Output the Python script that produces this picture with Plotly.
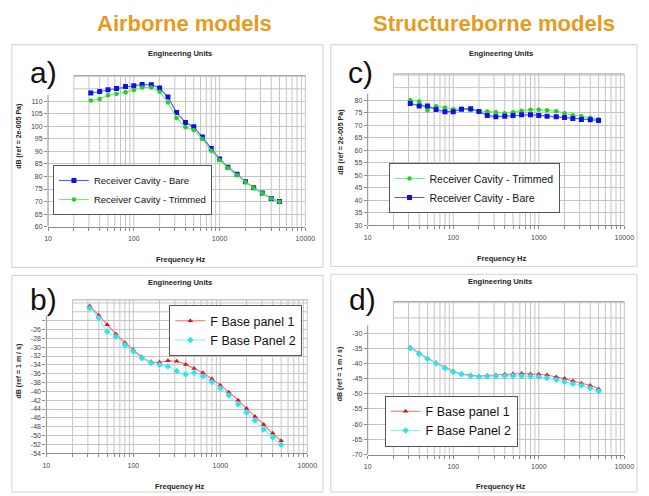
import math
import plotly.graph_objects as go

W, H = 649, 496

# ---------------- data ----------------
freqs = [31.5, 40, 50, 63, 80, 100, 125, 160, 200, 250, 315, 400, 500, 630,
         800, 1000, 1250, 1600, 2000, 2500, 3150, 4000, 5000]

a_bare = [113.3, 113.9, 114.6, 115.1, 115.9, 116.2, 116.7, 116.6, 115.3, 111.7,
          105.5, 101.6, 99.9, 95.8, 91.2, 87.0, 83.7, 80.9, 77.9, 75.5, 73.4, 71.2, 70.0]
a_trim = [110.3, 110.9, 112.4, 112.9, 113.6, 114.5, 115.5, 115.5, 113.8, 109.5,
          103.4, 99.7, 98.6, 95.0, 90.3, 86.6, 83.4, 80.5, 77.8, 75.4, 73.3, 71.2, 69.9]

c_trim = [80.0, 79.5, 76.0, 77.6, 77.0, 76.4, 76.6, 76.0, 75.6, 75.5, 75.2, 74.8,
          75.2, 75.8, 76.2, 76.2, 76.0, 75.6, 74.8, 74.0, 73.6, 73.0, 72.4]
c_bare = [78.7, 77.7, 77.7, 76.3, 75.4, 75.4, 76.4, 76.6, 75.5, 73.9, 73.4, 73.6,
          73.9, 74.2, 74.2, 73.9, 73.6, 73.4, 73.1, 72.7, 72.3, 72.2, 71.9]

b_p1 = [-20.7, -22.8, -24.9, -27.0, -29.0, -30.6, -32.2, -33.3, -33.4, -33.1, -33.2,
        -33.9, -34.8, -35.8, -37.2, -38.6, -40.2, -42.0, -43.9, -45.7, -47.5, -49.5, -51.2]
b_p2 = [-21.2, -23.4, -26.5, -27.6, -29.5, -31.0, -32.5, -33.6, -34.0, -34.3, -35.4,
        -36.1, -35.8, -36.6, -37.9, -39.3, -40.9, -42.9, -44.8, -46.6, -48.6, -50.4, -52.1]

d_p1 = [-34.7, -36.6, -38.3, -39.8, -41.3, -42.5, -43.4, -43.8, -44.2, -44.0, -43.8,
        -43.6, -43.5, -43.3, -43.5, -43.6, -43.8, -44.5, -45.0, -45.8, -46.5, -47.3, -48.4]
d_p2 = [-35.0, -36.9, -38.5, -40.0, -41.6, -42.8, -43.6, -44.1, -44.4, -44.3, -44.2,
        -44.1, -44.1, -44.1, -44.2, -44.5, -44.8, -45.4, -46.0, -46.7, -47.3, -48.2, -49.2]

x_tick_vals = [m * 10 ** e for e in (1, 2, 3) for m in range(1, 10)] + [10000]
x_tick_text = [str(v) if v in (10, 100, 1000, 10000) else "" for v in x_tick_vals]

header_left = "Airborne models"
header_right = "Structureborne models"
panel_title = "Engineering Units"
x_title = "Frequency Hz"
y_title_pa = "dB (ref = 2e-005 Pa)"
y_title_ms = "dB (ref = 1 m / s)"

# ---------------- helpers ----------------
def px(x):
    return x / W

def py(y):
    return 1 - y / H

FONT = "Liberation Sans, Arial, sans-serif"
GRID = "#c4c4c4"
AXIS = "#8a8a8a"
TICKF = dict(family=FONT, size=7, color="#444")

fig = go.Figure()
shapes = []
annotations = []

panels = [
    dict(n=1, xp=(45, 308), yp=(76, 228), ymin=60, ytop=120.3, t0=60, t1=110, step=5,
         extra=[115, 120], lab="a)", labpos=(40, 73), yt=y_title_pa, ytpos=(16, 137),
         etpos=(180, 54), xtpos=(180, 261), box=(8, 45, 326, 269)),
    dict(n=2, xp=(371.7, 634), yp=(74.3, 226.7), ymin=30, ytop=90.5, t0=30, t1=80, step=5,
         extra=[85, 90], lab="c)", labpos=(364, 73), yt=y_title_pa, ytpos=(345, 143),
         etpos=(508, 54), xtpos=(508, 260), box=(334, 45, 647, 268)),
    dict(n=3, xp=(43.3, 310), yp=(301.7, 456), ymin=-54, ytop=-19.3, t0=-54, t1=-24, step=2,
         extra=[-22, -20], lab="b)", labpos=(40, 301), yt=y_title_ms, ytpos=(15, 373),
         etpos=(180, 284), xtpos=(179, 489), box=(8, 277, 326, 495)),
    dict(n=4, xp=(371.7, 634), yp=(303.3, 457.3), ymin=-70, ytop=-19.6, t0=-70, t1=-30, step=5,
         extra=[-25, -20], lab="d)", labpos=(366, 301), yt=y_title_ms, ytpos=(343, 376),
         etpos=(507, 283), xtpos=(507, 489), box=(334, 276, 647, 495)),
]

layout_axes = {}
for p in panels:
    n = p["n"]
    xa = "xaxis" if n == 1 else f"xaxis{n}"
    ya = "yaxis" if n == 1 else f"yaxis{n}"
    xr = "x" if n == 1 else f"x{n}"
    yr = "y" if n == 1 else f"y{n}"
    tv = list(range(p["t0"], p["t1"] + 1, p["step"]))
    tt = [str(v) for v in tv]
    if n == 3:
        tt[-1] = ""
    layout_axes[xa] = dict(
        type="log", range=[1, 4], domain=[px(p["xp"][0]), px(p["xp"][1])],
        anchor=yr, tickvals=x_tick_vals, ticktext=x_tick_text, showgrid=False,
        zeroline=False, showline=True, linecolor=AXIS, linewidth=1,
        ticks="outside", ticklen=3, tickcolor=AXIS, tickfont=TICKF, ticklabelstandoff=2,
    )
    layout_axes[ya] = dict(
        range=[p["ymin"], p["ytop"]], domain=[py(p["yp"][1]), py(p["yp"][0])],
        anchor=xr, tickvals=tv, ticktext=tt, showgrid=True, gridcolor=GRID, gridwidth=1,
        zeroline=False, showline=False, ticks="outside", ticklen=3, tickcolor=AXIS,
        tickfont=TICKF,
    )
    bx = p["box"]
    shapes.append(dict(type="rect", xref="paper", yref="paper", x0=px(bx[0]), x1=px(bx[2]),
                       y0=py(bx[3]), y1=py(bx[1]), line=dict(color="#d0d0d0", width=1),
                       fillcolor="white", layer="below"))
    xd = f"{xr} domain"
    yd = f"{yr} domain"
    x20 = math.log10(2) / 3
    for v in x_tick_vals[1:]:
        xx = (math.log10(v) - 1) / 3
        shapes.append(dict(type="line", xref=xd, yref=yd, x0=xx, x1=xx, y0=0, y1=1,
                           line=dict(color=GRID, width=1), layer="below"))
    for e in p["extra"]:
        shapes.append(dict(type="line", xref=xd, yref=yr, x0=x20, x1=1, y0=e, y1=e,
                           line=dict(color=GRID, width=1), layer="below"))
    shapes.append(dict(type="line", xref=xd, yref=yd, x0=x20, x1=1, y0=1, y1=1,
                       line=dict(color="#a8a8a8", width=1), layer="below"))
    shapes.append(dict(type="line", xref=xd, yref=yr, x0=0, x1=0, y0=p["ymin"],
                       y1=p["t1"] + p["step"] * 0.5, line=dict(color=AXIS, width=1)))
    annotations.append(dict(xref="paper", yref="paper", x=px(p["etpos"][0]), y=py(p["etpos"][1]),
                            text=f"<b>{panel_title}</b>", showarrow=False,
                            font=dict(family=FONT, size=7.5, color="#222"),
                            xanchor="center", yanchor="middle"))
    annotations.append(dict(xref="paper", yref="paper", x=px(p["xtpos"][0]), y=py(p["xtpos"][1]),
                            text=f"<b>{x_title}</b>", showarrow=False,
                            font=dict(family=FONT, size=7.5, color="#222"),
                            xanchor="center", yanchor="middle"))
    annotations.append(dict(xref="paper", yref="paper", x=px(p["ytpos"][0]), y=py(p["ytpos"][1]),
                            text=f"<b>{p['yt']}</b>", showarrow=False, textangle=-90,
                            font=dict(family=FONT, size=7, color="#222"),
                            xanchor="center", yanchor="middle"))
    annotations.append(dict(xref="paper", yref="paper", x=px(p["labpos"][0]), y=py(p["labpos"][1]),
                            text=p["lab"], showarrow=False,
                            font=dict(family=FONT, size=30, color="#111"),
                            xanchor="center", yanchor="middle"))

for txt, xx in ((header_left, 184), (header_right, 501)):
    annotations.append(dict(xref="paper", yref="paper", x=px(xx), y=py(24), text=f"<b>{txt}</b>",
                            showarrow=False, font=dict(family=FONT, size=22, color="#E89A1A"),
                            xanchor="center", yanchor="middle"))

BLUE_M, BLUE_L = "#1010e6", "#4a5cff"
GREEN_M, GREEN_L = "#22d022", "#70f070"
RED_M, RED_L = "#d81028", "#ff6a6a"
CYAN_M, CYAN_L = "#28e6ee", "#80f4f4"

def tr(y, name, xa, ya, lg, mc, lc, sym, size, shape="linear"):
    return go.Scatter(x=freqs, y=y, name=name, xaxis=xa, yaxis=ya, legend=lg,
                      mode="lines+markers", line=dict(color=lc, width=1.1, shape=shape),
                      marker=dict(color=mc, symbol=sym, size=size))

fig.add_trace(tr(a_bare, "Receiver Cavity - Bare", "x", "y", "legend", BLUE_M, BLUE_L, "square", 5))
fig.add_trace(tr(a_trim, "Receiver Cavity - Trimmed", "x", "y", "legend", GREEN_M, GREEN_L, "circle", 4.5))
fig.add_trace(tr(c_trim, "Receiver Cavity - Trimmed", "x2", "y2", "legend2", GREEN_M, GREEN_L, "circle", 4.5))
fig.add_trace(tr(c_bare, "Receiver Cavity - Bare", "x2", "y2", "legend2", BLUE_M, BLUE_L, "square", 5))
fig.add_trace(tr(b_p1, "F Base panel 1", "x3", "y3", "legend3", RED_M, RED_L, "triangle-up", 5, "spline"))
fig.add_trace(tr(b_p2, "F Base Panel 2", "x3", "y3", "legend3", CYAN_M, CYAN_L, "diamond", 5, "spline"))
fig.add_trace(tr(d_p1, "F Base panel 1", "x4", "y4", "legend4", RED_M, RED_L, "triangle-up", 5, "spline"))
fig.add_trace(tr(d_p2, "F Base Panel 2", "x4", "y4", "legend4", CYAN_M, CYAN_L, "diamond", 5, "spline"))

def leg(x, y, size):
    return dict(x=px(x), y=py(y), xanchor="left", yanchor="top", bgcolor="white",
                bordercolor="#555", borderwidth=1, font=dict(family=FONT, size=size, color="#111"),
                itemwidth=30, tracegroupgap=0)

fig.update_layout(
    width=W, height=H, margin=dict(l=0, r=0, t=0, b=0),
    paper_bgcolor="white", plot_bgcolor="rgba(0,0,0,0)",
    showlegend=True, hovermode=False,
    legend=leg(50, 166, 9.5),
    legend2=leg(393, 164, 10.5),
    legend3=leg(169, 307, 12.5),
    legend4=leg(389, 398, 12.5),
    shapes=shapes, annotations=annotations,
    **layout_axes,
)

fig.write_html("out.html", config={"displayModeBar": False, "staticPlot": True},
               post_script="document.body.style.margin='0px';document.body.style.overflow='hidden';")
